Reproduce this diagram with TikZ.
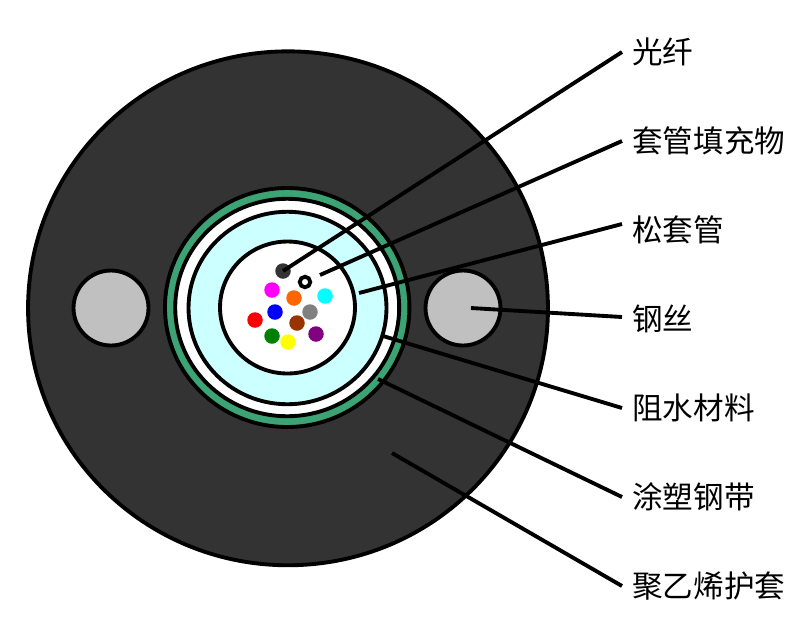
\documentclass[tikz,border=0pt]{standalone}
\usepackage{fontspec}
\setmainfont{Noto Sans CJK SC}
\usepackage{xcolor}
\usetikzlibrary{calc,positioning,shapes.geometric}
\definecolor{JacketGray}{HTML}{333333}
\definecolor{TapeGreen}{HTML}{3CA374}
\definecolor{GelCyan}{HTML}{CCFFFF}
\definecolor{WireGray}{HTML}{C0C0C0}
\definecolor{FibreMagenta}{HTML}{FF00FF}
\definecolor{FibreOrange}{HTML}{FF6600}
\definecolor{FibreCyan}{HTML}{00FFFF}
\definecolor{FibreBlue}{HTML}{0000FF}
\definecolor{FibreGray}{HTML}{808080}
\definecolor{FibreRed}{HTML}{FF0000}
\definecolor{FibreBrown}{HTML}{993300}
\definecolor{FibrePurple}{HTML}{800080}
\definecolor{FibreGreen}{HTML}{008000}
\definecolor{FibreYellow}{HTML}{FFFF00}
\begin{document}
\begin{tikzpicture}[
  x=0.02cm,y=-0.02cm,
  ring/.style={ellipse,draw=black,line width=2.2pt,inner sep=0pt,outer sep=0pt},
  fibre/.style={circle,inner sep=0pt,outer sep=0pt,minimum size=0.31cm},
  label/.style={anchor=west,inner sep=0pt,inner xsep=0.2cm,font=\fontsize{17.4}{17.4}\selectfont},
  lead/.style={line width=2.2pt,draw=black}
]
\useasboundingbox (0,0) rectangle (800,633);

% cable layers
\node[ring,fill=JacketGray,minimum width=10.40cm,minimum height=10.28cm] (jacket) at (288,308.3) {};
\node[ring,fill=TapeGreen,minimum width=4.89cm,minimum height=4.78cm] (tape) at (287.2,307.5) {};
\node[ring,fill=white,minimum width=4.48cm,minimum height=4.35cm] (block) at (287.2,307.5) {};
\node[ring,fill=GelCyan,minimum width=3.96cm,minimum height=3.85cm] (tube) at (287.5,308) {};
\node[ring,fill=white,minimum width=2.70cm,minimum height=2.64cm] (gel) at (287.5,307.5) {};
\node[ring,fill=WireGray,minimum width=1.50cm,minimum height=1.50cm] (wirel) at (111,308) {};
\node[ring,fill=WireGray,minimum width=1.50cm,minimum height=1.50cm] (wirer) at (463,308) {};

% fibres
\node[fibre,fill=JacketGray] (f0) at (283,271) {};
\node[ring,fill=white,minimum width=0.21cm,minimum height=0.21cm] (f1) at (305,282) {};
\node[fibre,fill=FibreMagenta] (f2) at (272,290) {};
\node[fibre,fill=FibreOrange] (f3) at (294,298) {};
\node[fibre,fill=FibreCyan] (f4) at (325,296) {};
\node[fibre,fill=FibreBlue] (f5) at (275,312) {};
\node[fibre,fill=FibreGray] (f6) at (310,312) {};
\node[fibre,fill=FibreRed] (f7) at (255,320) {};
\node[fibre,fill=FibreBrown] (f8) at (297,323) {};
\node[fibre,fill=FibrePurple] (f9) at (316,334) {};
\node[fibre,fill=FibreGreen] (f10) at (272,336) {};
\node[fibre,fill=FibreYellow] (f11) at (288,342) {};

% labels
\node[label] (lfibre) at (622,52) {光纤};
\node[label] (lfill) at (622,141) {套管填充物};
\node[label] (ltube) at (622,230) {松套管};
\node[label] (lwire) at (622,319) {钢丝};
\node[label] (lblock) at (622,408) {阻水材料};
\node[label] (ltape) at (622,497) {涂塑钢带};
\node[label] (ljacket) at (622,586) {聚乙烯护套};

% free ends of the leaders
\coordinate (pfill) at (320,275);
\coordinate (ptube) at (359,293);
\coordinate (pwire) at (471,308);
\coordinate (pblock) at (383,336);
\coordinate (ptape) at (378,379);
\coordinate (pjacket) at (392,453);

\draw[lead] (f0.center) -- (lfibre.west);
\draw[lead] (pfill) -- (lfill.west);
\draw[lead] (ptube) -- ([yshift=0.12cm]ltube.west);
\draw[lead] (pwire) -- ([yshift=0.04cm]lwire.west);
\draw[lead] (pblock) -- (lblock.west);
\draw[lead] (ptape) -- (ltape.west);
\draw[lead] (pjacket) -- (ljacket.west);
\end{tikzpicture}
\end{document}
